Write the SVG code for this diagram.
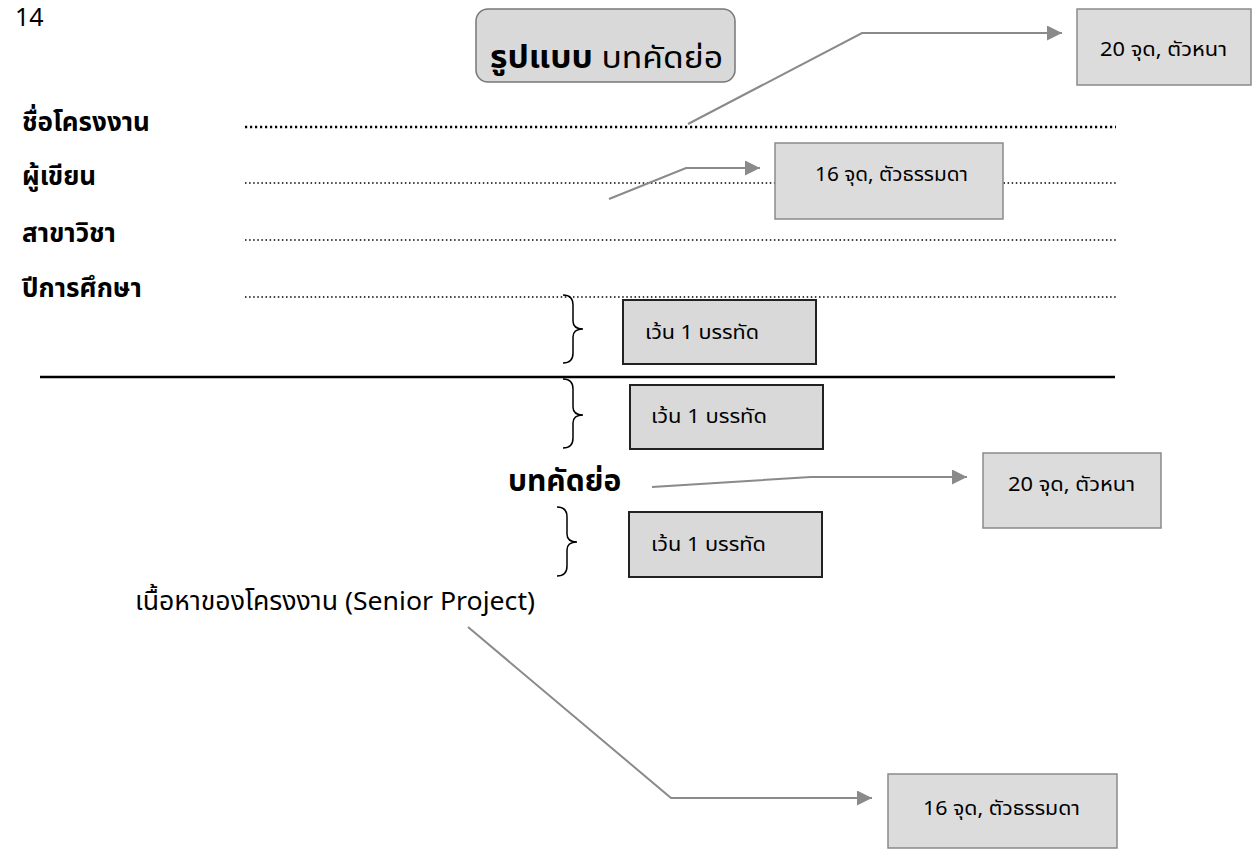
<svg xmlns="http://www.w3.org/2000/svg" width="1254" height="850" viewBox="0 0 1254 850">
<style>
text{font-family:"Noto Sans Thai","Noto Sans","Liberation Sans",sans-serif;fill:#000}
.lbl{font-size:26px;font-weight:bold}
.note{font-size:19px}
.gbox{fill:#dcdcdc;stroke:#8a8a8a;stroke-width:1.5}
.dbox{fill:#d9d9d9;stroke:#222;stroke-width:2}
.conn{fill:none;stroke:#8a8a8a;stroke-width:2}
.dots{stroke:#000;stroke-width:1.5;stroke-dasharray:1.5 2.6;fill:none}
.bdots{stroke:#000;stroke-width:2.6;stroke-dasharray:2.2 2.8;fill:none}
.brace{fill:none;stroke:#000;stroke-width:1.5}
</style>
<defs>
<marker id="ah" viewBox="0 0 10 10" refX="10" refY="5" markerWidth="7.5" markerHeight="7.5" orient="auto" markerUnits="strokeWidth">
<path d="M0,0 L10,5 L0,10 z" fill="#8a8a8a"/>
</marker>
</defs>
<text x="15" y="26" style="font-size:25px">14</text>
<g id="title">
<rect x="476" y="9" width="259" height="73" rx="12" fill="#d9d9d9" stroke="#777" stroke-width="1.5"/>
<text x="490" y="68" style="font-size:31px" textLength="233" lengthAdjust="spacingAndGlyphs"><tspan font-weight="bold">รูปแบบ</tspan> บทคัดย่อ</text>
</g>
<g id="labels">
<text class="lbl" x="22" y="131">ชื่อโครงงาน</text>
<text class="lbl" x="22" y="185">ผู้เขียน</text>
<text class="lbl" x="22" y="242">สาขาวิชา</text>
<text class="lbl" x="22" y="297">ปีการศึกษา</text>
</g>
<g id="lines">
<line class="bdots" x1="245" y1="127" x2="1116" y2="127"/>
<line class="dots" x1="245" y1="183" x2="1118" y2="183"/>
<line class="dots" x1="245" y1="240" x2="1118" y2="240"/>
<line class="dots" x1="245" y1="297" x2="1118" y2="297"/>
<line x1="40" y1="377" x2="1115" y2="377" stroke="#000" stroke-width="2.5"/>
</g>
<g id="braces">
<path class="brace" d="M563,295 Q573,295 573,305 L573,321 Q573,329 583,329 Q573,329 573,337 L573,353 Q573,363 563,363"/>
<path class="brace" d="M563,379 Q573,379 573,389 L573,407 Q573,415 583,415 Q573,415 573,423 L573,438 Q573,448 563,448"/>
<path class="brace" d="M557,507 Q567,507 567,517 L567,534 Q567,542 577,542 Q567,542 567,550 L567,566 Q567,576 557,576"/>
</g>
<g id="box-20-top">
<rect class="gbox" x="1077" y="9" width="174" height="76"/>
<text class="note" x="1100" y="56" textLength="127" lengthAdjust="spacingAndGlyphs">20 จุด, ตัวหนา</text>
</g>
<g id="box-16-top">
<rect class="gbox" x="775" y="143" width="228" height="76"/>
<text class="note" x="815" y="181" textLength="153" lengthAdjust="spacingAndGlyphs">16 จุด, ตัวธรรมดา</text>
</g>
<g id="gap-1">
<rect class="dbox" x="623" y="300" width="193" height="64"/>
<text class="note" x="645" y="339" textLength="114" lengthAdjust="spacingAndGlyphs">เว้น 1 บรรทัด</text>
</g>
<g id="gap-2">
<rect class="dbox" x="630" y="385" width="193" height="64"/>
<text class="note" x="651" y="423" textLength="116" lengthAdjust="spacingAndGlyphs">เว้น 1 บรรทัด</text>
</g>
<text id="abstract" x="508" y="491" style="font-size:30px;font-weight:bold">บทคัดย่อ</text>
<g id="gap-3">
<rect class="dbox" x="629" y="512" width="193" height="65"/>
<text class="note" x="651" y="551" textLength="115" lengthAdjust="spacingAndGlyphs">เว้น 1 บรรทัด</text>
</g>
<g id="box-20-mid">
<rect class="gbox" x="983" y="453" width="178" height="75"/>
<text class="note" x="1008" y="491" textLength="127" lengthAdjust="spacingAndGlyphs">20 จุด, ตัวหนา</text>
</g>
<text id="content" x="135" y="610" style="font-size:26px" textLength="400" lengthAdjust="spacingAndGlyphs">เนื้อหาของโครงงาน (Senior Project)</text>
<g id="box-16-bottom">
<rect class="gbox" x="888" y="774" width="229" height="74"/>
<text class="note" x="923" y="815" textLength="157" lengthAdjust="spacingAndGlyphs">16 จุด, ตัวธรรมดา</text>
</g>
<g id="connectors">
<polyline class="conn" points="688,124 862,33 1062,33" marker-end="url(#ah)"/>
<polyline class="conn" points="609,199 686,168 760,168" marker-end="url(#ah)"/>
<polyline class="conn" points="652,487 811,477 967,477" marker-end="url(#ah)"/>
<polyline class="conn" points="468,627 671,798 872,798" marker-end="url(#ah)"/>
</g>
</svg>
